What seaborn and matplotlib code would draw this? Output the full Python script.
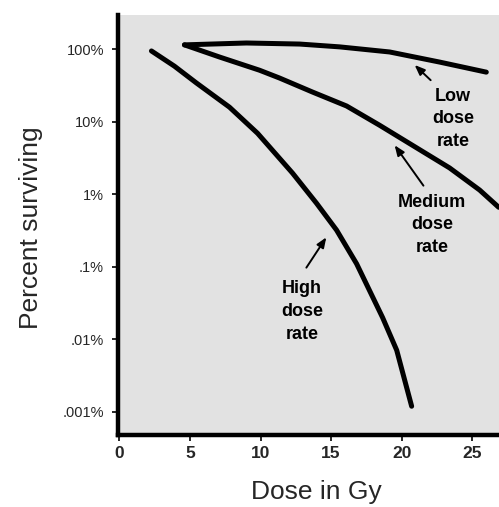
import matplotlib
matplotlib.use("Agg")
import matplotlib.pyplot as plt
import seaborn as sns
import pandas as pd

# ---- data (dose in Gy, percent surviving) ----
high_dose = [2.27, 3.9, 5.46, 7.8, 9.79, 12.27, 13.97, 15.39, 16.81, 18.65, 19.65, 20.71]
high_surv = [94, 58, 34, 15.8, 6.9, 1.95, 0.75, 0.32, 0.11, 0.020, 0.0071, 0.0012]

medium_dose = [4.61, 7.09, 9.93, 11.35, 13.69, 16.1, 18.44, 20.78, 23.4, 25.53, 26.88]
medium_surv = [114, 77.6, 51, 39.8, 25.5, 16.4, 8.9, 4.7, 2.3, 1.14, 0.66]

low_dose = [4.61, 9.0, 12.77, 15.6, 19.15, 22.7, 26.0]
low_surv = [114, 121, 117, 107, 91, 66, 48]

series_names = ["High dose rate", "Medium dose rate", "Low dose rate"]

x_ticks = [0, 5, 10, 15, 20, 25]
y_ticks = [0.001, 0.01, 0.1, 1, 10, 100]
y_tick_labels = [".001%", ".01%", ".1%", "1%", "10%", "100%"]

rows = []
for name, xs, ys in zip(series_names,
                        [high_dose, medium_dose, low_dose],
                        [high_surv, medium_surv, low_surv]):
    for i, (x, y) in enumerate(zip(xs, ys)):
        rows.append({"series": name, "order": i, "dose": x, "surv": y})
df = pd.DataFrame(rows)

sns.set_theme(style="white")
plt.rcParams["font.family"] = ["Liberation Sans", "DejaVu Sans"]

fig = plt.figure(figsize=(4.99, 5.07), dpi=100)
ax = fig.add_axes([118 / 499, 1 - 435 / 507, 1 - 118 / 499, (435 - 15) / 507])
ax.set_facecolor("#e2e2e2")

sns.lineplot(data=df, x="dose", y="surv", hue="series", units="series",
             estimator=None, sort=False, palette=["black"] * 3,
             linewidth=3.6, legend=False, ax=ax)
for ln in ax.get_lines():
    ln.set_solid_capstyle("round")
    ln.set_solid_joinstyle("round")

ax.set_yscale("log")
ax.set_xlim(-0.1, 26.9)
ax.set_ylim(0.000482, 294)

ax.set_xticks(x_ticks)
ax.set_xticklabels([str(t) for t in x_ticks], fontsize=12.5, fontweight="bold")
ax.set_yticks(y_ticks)
ax.set_yticklabels(y_tick_labels, fontsize=10.5)
ax.yaxis.set_minor_locator(matplotlib.ticker.NullLocator())
ax.tick_params(axis="both", which="major", direction="out", length=4,
               width=1.2, color="black", left=True, bottom=True)
ax.tick_params(axis="y", pad=6)
ax.tick_params(axis="x", pad=4)

for side in ["top", "right"]:
    ax.spines[side].set_visible(False)
for side in ["left", "bottom"]:
    ax.spines[side].set_visible(True)
    ax.spines[side].set_linewidth(3.2)
    ax.spines[side].set_color("black")

ax.set_xlabel("Dose in Gy", fontsize=19, va="center")
ax.xaxis.set_label_coords((316 - 118) / 381, (435 - 492) / 420)
ax.set_ylabel("Percent surviving", fontsize=19, va="center")
ax.yaxis.set_label_coords((31 - 118) / 381, (435 - 228) / 420)

lab_kw = dict(fontsize=13, fontweight="bold", ha="center", va="center",
              linespacing=1.45, color="black")
ax.text(23.65, 10.9, "Low\ndose\nrate", **lab_kw)
ax.text(22.16, 0.377, "Medium\ndose\nrate", **lab_kw)
ax.text(12.93, 0.024, "High\ndose\nrate", **lab_kw)

arr_kw = dict(arrowstyle="-|>,head_length=0.5,head_width=0.2", color="black", lw=1.4)
ax.annotate("", xy=(20.78, 64), xytext=(22.2, 35), arrowprops=arr_kw)
ax.annotate("", xy=(19.39, 5.07), xytext=(21.66, 1.22), arrowprops=arr_kw)
ax.annotate("", xy=(14.77, 0.274), xytext=(13.14, 0.0904), arrowprops=arr_kw)

fig.savefig("out.png", dpi=100)
